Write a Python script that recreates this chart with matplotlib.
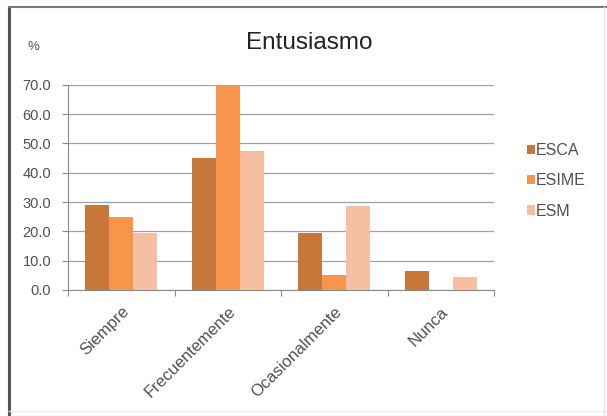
import matplotlib.pyplot as plt
import numpy as np
from matplotlib.lines import Line2D

categorias = ['Siempre', 'Frecuentemente', 'Ocasionalmente', 'Nunca']
esca = [29.0, 45.0, 19.5, 6.5]
esime = [25.0, 70.0, 5.0, 0.0]
esm = [19.5, 47.5, 28.5, 4.5]
series = ['ESCA', 'ESIME', 'ESM']
colores = ['#C8773A', '#F7964A', '#F5BFA2']

plt.rcParams['font.family'] = ['Liberation Sans', 'DejaVu Sans']

fig = plt.figure(figsize=(6.07, 4.16), dpi=100)
ax = fig.add_axes([0.112, 0.303, 0.702, 0.493])

x = np.arange(len(categorias))
w = 0.225
for i, (vals, nom, col) in enumerate(zip([esca, esime, esm], series, colores)):
    ax.bar(x + (i - 1) * w, vals, width=w, color=col, label=nom, zorder=3)

ax.set_xlim(-0.5, len(categorias) - 0.5)
ax.set_ylim(0, 70)
ax.set_yticks(np.arange(0, 71, 10))
ax.set_yticklabels(['%.1f' % v for v in np.arange(0, 71, 10)], fontsize=10.5, color='#505050')
ax.yaxis.grid(True, color='#a0a0a0', linewidth=0.9, zorder=0)

ax.set_xticks(np.arange(-0.5, len(categorias), 1.0))
ax.set_xticklabels([])
ax.set_xticks(x, minor=True)
ax.set_xticklabels(categorias, minor=True, rotation=45, ha='right', va='top',
                   rotation_mode='anchor', fontsize=12, color='#505050')
ax.tick_params(axis='x', which='minor', length=0, pad=10)
ax.tick_params(axis='x', which='major', length=4, color='#888888', direction='out')
ax.tick_params(axis='y', length=4, color='#888888', pad=8)

for s in ['top', 'right']:
    ax.spines[s].set_visible(False)
ax.spines['left'].set_color('#888888')
ax.spines['bottom'].set_color('#888888')

fig.text(0.51, 0.897, 'Entusiasmo', ha='center', va='center', fontsize=17.5, color='#222222')
fig.text(0.055, 0.887, '%', ha='center', va='center', fontsize=9.5, color='#505050')

leg = fig.legend(loc='center left', bbox_to_anchor=(0.845, 0.565), frameon=False,
                 fontsize=11.5, handlelength=0.5, handleheight=0.5, handletextpad=0.05,
                 labelspacing=0.95)
for t in leg.get_texts():
    t.set_color('#505050')

# marco del grafico
fig.add_artist(Line2D([0.015, 0.015], [0.0, 0.983], transform=fig.transFigure,
                      color='#555555', linewidth=2.2))
fig.add_artist(Line2D([0.015, 1.0], [0.983, 0.983], transform=fig.transFigure,
                      color='#777777', linewidth=1.5))
fig.add_artist(Line2D([0.995, 0.995], [0.0, 0.983], transform=fig.transFigure,
                      color='#e6e6e6', linewidth=1.0))
fig.add_artist(Line2D([0.015, 1.0], [0.012, 0.012], transform=fig.transFigure,
                      color='#eeeeee', linewidth=1.0))

fig.savefig('out.png', dpi=100)
